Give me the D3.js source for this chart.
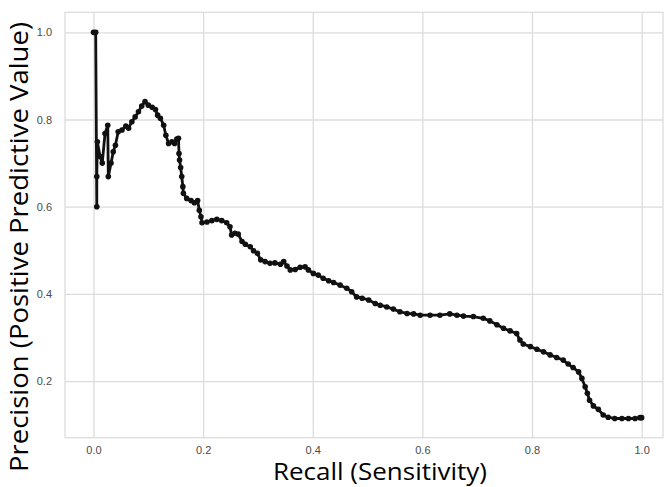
<!DOCTYPE html>
<html>
<head>
<meta charset="utf-8">
<script src="https://cdn.jsdelivr.net/npm/d3@7"></script>
<style>
  body { margin: 0; background: #fff; }
</style>
</head>
<body>
<div id="chart"></div>
<script>
// Precision-recall curve values
var recall = [0.000, 0.004, 0.006, 0.006, 0.007, 0.012, 0.016, 0.021, 0.026, 0.027,
  0.032, 0.036, 0.040, 0.045, 0.052, 0.059, 0.064, 0.070, 0.076, 0.082,
  0.088, 0.094, 0.100, 0.107, 0.113, 0.117, 0.122, 0.128, 0.132, 0.137,
  0.143, 0.148, 0.152, 0.155, 0.156, 0.157, 0.159, 0.161, 0.163, 0.164,
  0.170, 0.178, 0.184, 0.190, 0.193, 0.196, 0.198, 0.207, 0.216, 0.225,
  0.234, 0.243, 0.249, 0.252, 0.258, 0.264, 0.271, 0.277, 0.286, 0.292,
  0.299, 0.305, 0.313, 0.322, 0.331, 0.341, 0.347, 0.353, 0.359, 0.368,
  0.377, 0.386, 0.392, 0.401, 0.410, 0.419, 0.429, 0.438, 0.450, 0.462,
  0.471, 0.480, 0.490, 0.502, 0.514, 0.523, 0.535, 0.547, 0.559, 0.572,
  0.584, 0.596, 0.614, 0.632, 0.650, 0.663, 0.675, 0.693, 0.711, 0.723,
  0.736, 0.748, 0.760, 0.772, 0.778, 0.784, 0.797, 0.809, 0.821, 0.833,
  0.845, 0.857, 0.866, 0.875, 0.885, 0.891, 0.897, 0.901, 0.905, 0.912,
  0.921, 0.930, 0.939, 0.951, 0.964, 0.976, 0.988, 0.997, 1.000];

var precision = [1.000, 1.000, 0.600, 0.669, 0.749, 0.715, 0.700, 0.768, 0.787, 0.669,
  0.700, 0.726, 0.741, 0.772, 0.776, 0.785, 0.780, 0.795, 0.806, 0.818,
  0.831, 0.841, 0.833, 0.828, 0.823, 0.810, 0.803, 0.787, 0.764, 0.745,
  0.749, 0.745, 0.755, 0.757, 0.722, 0.707, 0.690, 0.669, 0.646, 0.631,
  0.619, 0.614, 0.609, 0.614, 0.592, 0.577, 0.563, 0.565, 0.568, 0.571,
  0.568, 0.563, 0.554, 0.535, 0.539, 0.537, 0.520, 0.514, 0.508, 0.499,
  0.493, 0.478, 0.474, 0.470, 0.471, 0.468, 0.474, 0.464, 0.455, 0.456,
  0.461, 0.462, 0.455, 0.447, 0.443, 0.436, 0.430, 0.426, 0.420, 0.413,
  0.405, 0.393, 0.390, 0.386, 0.378, 0.374, 0.370, 0.365, 0.359, 0.355,
  0.354, 0.351, 0.351, 0.351, 0.354, 0.351, 0.349, 0.348, 0.344, 0.338,
  0.329, 0.321, 0.315, 0.309, 0.294, 0.285, 0.279, 0.273, 0.267, 0.260,
  0.254, 0.248, 0.239, 0.231, 0.221, 0.206, 0.187, 0.172, 0.156, 0.143,
  0.135, 0.122, 0.117, 0.114, 0.114, 0.114, 0.114, 0.116, 0.116];

var xTicks = [0.0, 0.2, 0.4, 0.6, 0.8, 1.0];
var yTicks = [0.2, 0.4, 0.6, 0.8, 1.0];

var xTitle = "Recall (Sensitivity)";
var yTitle = "Precision (Positive Predictive Value)";

// svg area
var svgWidth = 667;
var svgHeight = 487;

// plot frame in pixels
var frame = { left: 65, right: 663, top: 12.3, bottom: 437.7 };

var svg = d3.select("#chart")
    .append("svg")
    .attr("width", svgWidth)
    .attr("height", svgHeight);

var points = recall.map(function(r, i) {
    return { recall: r, precision: precision[i] };
});

// scales (padded domains like matplotlib margins)
var xScale = d3.scaleLinear()
    .domain([-0.052, 1.039])
    .range([frame.left, frame.right]);

var yScale = d3.scaleLinear()
    .domain([0.070, 1.046])
    .range([frame.bottom, frame.top]);

var plotH = frame.bottom - frame.top;
var plotW = frame.right - frame.left;

var gridColor = "#dcdcdc";

// x axis with gridlines
var xAxis = d3.axisBottom(xScale)
    .tickValues(xTicks)
    .tickFormat(d3.format(".1f"))
    .tickSize(-plotH)
    .tickPadding(9);

var gx = svg.append("g")
    .attr("transform", `translate(0, ${frame.bottom})`)
    .call(xAxis);

// y axis with gridlines
var yAxis = d3.axisLeft(yScale)
    .tickValues(yTicks)
    .tickFormat(d3.format(".1f"))
    .tickSize(-plotW)
    .tickPadding(13);

var gy = svg.append("g")
    .attr("transform", `translate(${frame.left}, 0)`)
    .call(yAxis);

[gx, gy].forEach(function(g) {
    g.select(".domain").remove();
    g.selectAll(".tick line")
        .attr("stroke", gridColor)
        .attr("stroke-width", 1.3);
    g.selectAll(".tick text")
        .attr("fill", "#4a4a4a")
        .style("font-family", "'Liberation Sans', Arial, sans-serif")
        .style("font-size", "11px");
});

// frame
svg.append("rect")
    .attr("x", frame.left)
    .attr("y", frame.top)
    .attr("width", plotW)
    .attr("height", plotH)
    .attr("fill", "none")
    .attr("stroke", gridColor)
    .attr("stroke-width", 1.3);

// curve
var line = d3.line()
    .x(d => xScale(d.recall))
    .y(d => yScale(d.precision));

svg.append("path")
    .datum(points)
    .attr("d", line)
    .attr("fill", "none")
    .attr("stroke", "#111")
    .attr("stroke-width", 2.8)
    .attr("stroke-linejoin", "round");

svg.append("g")
    .selectAll("circle")
    .data(points)
    .enter()
    .append("circle")
    .attr("cx", d => xScale(d.recall))
    .attr("cy", d => yScale(d.precision))
    .attr("r", 2.8)
    .attr("fill", "#111");

// axis titles
svg.append("text")
    .attr("x", 380)
    .attr("y", 480)
    .attr("text-anchor", "middle")
    .attr("textLength", 214)
    .attr("lengthAdjust", "spacingAndGlyphs")
    .style("font-family", "'Open Sans', 'Noto Sans', sans-serif")
    .style("font-size", "23px")
    .attr("fill", "#000")
    .text(xTitle);

svg.append("text")
    .attr("transform", "translate(28, 247) rotate(-90)")
    .attr("text-anchor", "middle")
    .attr("textLength", 450)
    .attr("lengthAdjust", "spacingAndGlyphs")
    .style("font-family", "'Open Sans', 'Noto Sans', sans-serif")
    .style("font-size", "26px")
    .attr("fill", "#000")
    .text(yTitle);
</script>
</body>
</html>
